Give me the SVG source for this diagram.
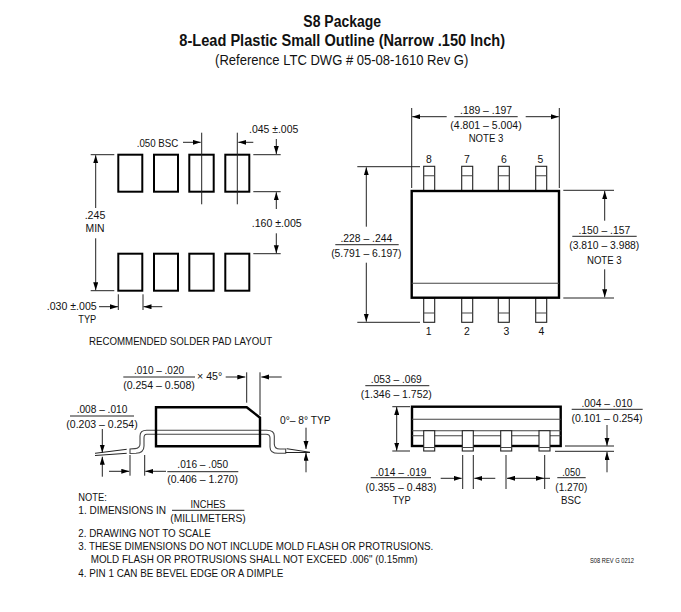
<svg xmlns="http://www.w3.org/2000/svg" width="681" height="612" viewBox="0 0 681 612">
<style>
text{font-family:"Liberation Sans",Arial,sans-serif;font-size:11.8px;fill:#111}
.m{text-anchor:middle}
.tb{font-weight:bold;font-size:16px;text-anchor:middle}
.ts{font-size:14.6px;text-anchor:middle}
.pad{fill:none;stroke:#000;stroke-width:2}
.body{fill:none;stroke:#000;stroke-width:2.4}
.lead{fill:#fff;stroke:#222;stroke-width:1.1}
.g{fill:none;stroke:#444;stroke-width:1.1}
.l{fill:none;stroke:#222;stroke-width:1}
.a{fill:none;stroke:#222;stroke-width:1;marker-end:url(#h)}
.d{fill:none;stroke:#222;stroke-width:1;marker-end:url(#h);marker-start:url(#s)}
</style>
<defs>
<marker id="h" markerUnits="userSpaceOnUse" markerWidth="9" markerHeight="6" refX="8" refY="2.5" orient="auto"><path d="M0 0L8 2.5L0 5Z" fill="#000"/></marker>
<marker id="s" markerUnits="userSpaceOnUse" markerWidth="9" markerHeight="6" refX="0" refY="2.5" orient="auto"><path d="M8 0L0 2.5L8 5Z" fill="#000"/></marker>
</defs>
<rect width="681" height="612" fill="#fff"/>
<g id="title">
<text class="tb" x="342.2" y="26.7" textLength="77.7" lengthAdjust="spacingAndGlyphs">S8 Package</text>
<text class="tb" x="342.2" y="45.7" textLength="325.7" lengthAdjust="spacingAndGlyphs">8-Lead Plastic Small Outline (Narrow .150 Inch)</text>
<text class="ts" x="341.7" y="65" textLength="253.3" lengthAdjust="spacingAndGlyphs">(Reference LTC DWG # 05-08-1610 Rev G)</text>
</g>
<g id="solder-pad-layout">
<g id="pads">
<rect class="pad" x="118.3" y="154.7" width="24" height="37"/><rect class="pad" x="154" y="154.7" width="24" height="37"/><rect class="pad" x="189.3" y="154.7" width="24.4" height="37"/><rect class="pad" x="225.3" y="154.7" width="24" height="37"/>
<rect class="pad" x="118.3" y="253.7" width="24" height="37"/><rect class="pad" x="154" y="253.7" width="24" height="37"/><rect class="pad" x="189.3" y="253.7" width="24.4" height="37"/><rect class="pad" x="225.3" y="253.7" width="24" height="37"/>
</g>
<g id="pad-dimensions">
<path class="l" d="M201.7 132.7V204.3M237.3 132.7V204.3M253.3 154.7H280.7M253.3 191.7H280.7M253.3 253.7H280.7M90.7 154.7H114.3M90.7 290.7H114.3M118.3 294.3V310M143 294.3V310"/>
<path class="a" d="M183 142.3H200.7"/><path class="a" d="M253.3 142.3H238.3"/><path class="a" d="M276.3 139V154"/><path class="a" d="M276.3 209V192.2"/><path class="a" d="M276.3 233.3V253.3"/>
<path class="a" d="M95.7 208V155.2"/><path class="a" d="M95.7 238.3V290.3"/><path class="a" d="M99 306.7H118"/><path class="a" d="M162.3 306.7H143.5"/>
</g>
<text x="136.7" y="146.7" textLength="41.6" lengthAdjust="spacingAndGlyphs">.050 BSC</text>
<text x="249" y="133.3" textLength="49.3" lengthAdjust="spacingAndGlyphs">.045 ±.005</text>
<text x="251.7" y="227" textLength="50" lengthAdjust="spacingAndGlyphs">.160 ±.005</text>
<text class="m" x="95" y="218.7" textLength="20.7" lengthAdjust="spacingAndGlyphs">.245</text>
<text class="m" x="95" y="231.7" textLength="19" lengthAdjust="spacingAndGlyphs">MIN</text>
<text x="46.7" y="310.3" textLength="50" lengthAdjust="spacingAndGlyphs">.030 ±.005</text>
<text class="m" x="87.3" y="323.3" textLength="18" lengthAdjust="spacingAndGlyphs">TYP</text>
<text x="89" y="345" textLength="183.3" lengthAdjust="spacingAndGlyphs">RECOMMENDED SOLDER PAD LAYOUT</text>
</g>
<g id="top-view">
<g id="top-leads">
<rect class="lead" x="423.7" y="166.3" width="11" height="24.7"/><rect class="lead" x="461.7" y="166.3" width="11" height="24.7"/><rect class="lead" x="498.3" y="166.3" width="11" height="24.7"/><rect class="lead" x="535.7" y="166.3" width="11" height="24.7"/>
<rect class="lead" x="423.7" y="298" width="11" height="24.3"/><rect class="lead" x="461.7" y="298" width="11" height="24.3"/><rect class="lead" x="498.3" y="298" width="11" height="24.3"/><rect class="lead" x="535.7" y="298" width="11" height="24.3"/>
<path class="g" d="M423.7 175.7h11M461.7 175.7h11M498.3 175.7h11M535.7 175.7h11M423.7 313h11M461.7 313h11M498.3 313h11M535.7 313h11"/>
</g>
<rect id="top-body" class="body" x="411.7" y="191" width="147.3" height="106.7"/>
<path class="g" d="M411.7 283.3H559"/>
<g id="top-dimensions">
<path class="l" d="M411.7 108V188M559.3 108V188M357.3 166.7H420M357.3 322.3H420M563.3 190.3H614M563.3 298H614M454.3 116.7H517.7M335.3 244.7H398.7M572.3 236.3H636.7"/>
<path class="a" d="M446.7 116.7H412.2"/><path class="a" d="M525.7 116.7H558.8"/><path class="a" d="M366.3 226.7V167.3"/><path class="a" d="M366.3 262.7V321.7"/><path class="a" d="M604.7 220.7V191"/><path class="a" d="M604.7 269.3V297.3"/>
</g>
<text class="m" x="486" y="114" textLength="52" lengthAdjust="spacingAndGlyphs">.189 – .197</text>
<text class="m" x="486" y="129.3" textLength="71.3" lengthAdjust="spacingAndGlyphs">(4.801 – 5.004)</text>
<text class="m" x="486" y="142.3" textLength="34.7" lengthAdjust="spacingAndGlyphs">NOTE 3</text>
<g style="font-size:11.8px">
<text class="m" x="429" y="163.3" textLength="5.8" lengthAdjust="spacingAndGlyphs">8</text><text class="m" x="467" y="163.3" textLength="5.8" lengthAdjust="spacingAndGlyphs">7</text><text class="m" x="504" y="163.3" textLength="5.8" lengthAdjust="spacingAndGlyphs">6</text><text class="m" x="540.3" y="163.3" textLength="5.8" lengthAdjust="spacingAndGlyphs">5</text>
<text class="m" x="428.7" y="335" textLength="5.8" lengthAdjust="spacingAndGlyphs">1</text><text class="m" x="467" y="335" textLength="5.8" lengthAdjust="spacingAndGlyphs">2</text><text class="m" x="506.3" y="335" textLength="5.8" lengthAdjust="spacingAndGlyphs">3</text><text class="m" x="541.3" y="335" textLength="5.8" lengthAdjust="spacingAndGlyphs">4</text>
</g>
<text class="m" x="366.3" y="241.7" textLength="51.7" lengthAdjust="spacingAndGlyphs">.228 – .244</text>
<text class="m" x="366.3" y="256.7" textLength="70.3" lengthAdjust="spacingAndGlyphs">(5.791 – 6.197)</text>
<text class="m" x="604.3" y="234" textLength="51.7" lengthAdjust="spacingAndGlyphs">.150 – .157</text>
<text class="m" x="604.3" y="249.3" textLength="70" lengthAdjust="spacingAndGlyphs">(3.810 – 3.988)</text>
<text class="m" x="604.3" y="264" textLength="34.7" lengthAdjust="spacingAndGlyphs">NOTE 3</text>
</g>
<g id="side-view-end">
<path class="g" d="M146.7 430.3H266.7C271 430.3 274.3 432 274.3 436V444C274.3 447.5 276 449 280 449H285.7V453.3H278C273 453.3 270 451 270 447V438C270 435.5 268.5 434.3 266 434.3H146.7C145 434.3 144 435.5 144 438V446C144 451 141 453 136 453.3L130 453.5V449L135 448.6C138.5 448.3 140 447 140 444V436C140 432 143 430.3 146.7 430.3Z"/>
<path class="body" d="M156 407.3H246.7L260 417.7V446.3H156Z"/>
<g id="end-dimensions">
<path class="l" d="M95 453.3L126.7 449.3M95 455.5L126.7 453.3M130 455V475.7M144.7 455V475.7M246.7 372.3V402.7M260 372.3V415M286.7 448.7L310 452.3M285.7 452.5H310M70 416H134M167.3 471.7H238.3M123.3 377H195"/>
<path class="a" d="M102.3 429V452.7"/><path class="a" d="M102.3 476.7V456.7"/><path class="a" d="M109 471.3H129.3"/><path class="a" d="M166 471.3H145.3"/><path class="a" d="M225.7 377H245.3"/><path class="a" d="M281.7 377H261.3"/><path class="a" d="M306 427.7V449"/><path class="a" d="M306 472.3V452.8"/>
</g>
<text class="m" x="159" y="374.3" textLength="50" lengthAdjust="spacingAndGlyphs">.010 – .020</text>
<text class="m" x="159" y="389" textLength="71.7" lengthAdjust="spacingAndGlyphs">(0.254 – 0.508)</text>
<text x="197" y="380" textLength="25.3" lengthAdjust="spacingAndGlyphs">× 45°</text>
<text class="m" x="102" y="413.3" textLength="50.7" lengthAdjust="spacingAndGlyphs">.008 – .010</text>
<text class="m" x="102" y="428.3" textLength="71.3" lengthAdjust="spacingAndGlyphs">(0.203 – 0.254)</text>
<text class="m" x="202.7" y="468" textLength="50.7" lengthAdjust="spacingAndGlyphs">.016 – .050</text>
<text class="m" x="202.7" y="483.3" textLength="70.7" lengthAdjust="spacingAndGlyphs">(0.406 – 1.270)</text>
<text x="280" y="424.3" textLength="50.7" lengthAdjust="spacingAndGlyphs">0°– 8° TYP</text>
</g>
<g id="side-view-long">
<rect class="body" x="412" y="406.7" width="148.7" height="39.3"/>
<path class="g" d="M412 419.3H560.7M412 430.7H560.7M412 435.7H560.7"/>
<g id="side-leads">
<rect class="lead" x="423.7" y="430.7" width="11" height="20.3"/><rect class="lead" x="462.3" y="430.7" width="11" height="20.3"/><rect class="lead" x="500.7" y="430.7" width="11" height="20.3"/><rect class="lead" x="539" y="430.7" width="11" height="20.3"/>
<path class="g" d="M423.7 447.5h11M462.3 447.5h11M500.7 447.5h11M539 447.5h11"/>
</g>
<g id="side-dimensions">
<path class="l" d="M392.3 406.7H410M392.3 451H410M565 446H614M555 451.3H614M462.7 455V489M473.3 455V489M506 455V489M544.7 455V489M365.3 385.7H429.3M571.7 409.3H642.7M370.7 477.7H431M557.3 477.7H585.7M544 478.3H550"/>
<path class="d" d="M396.7 407V450.7"/>
<path class="a" d="M607 425V445.7"/><path class="a" d="M607 472.3V452"/><path class="a" d="M440.7 478.3H461.7"/><path class="a" d="M495.3 478.3H474.3"/><path class="d" d="M507 478.3H544"/>
</g>
<text class="m" x="396.3" y="382.7" textLength="51" lengthAdjust="spacingAndGlyphs">.053 – .069</text>
<text class="m" x="396.3" y="397.7" textLength="71" lengthAdjust="spacingAndGlyphs">(1.346 – 1.752)</text>
<text class="m" x="607" y="407" textLength="51" lengthAdjust="spacingAndGlyphs">.004 – .010</text>
<text class="m" x="607" y="421.7" textLength="71" lengthAdjust="spacingAndGlyphs">(0.101 – 0.254)</text>
<text class="m" x="401" y="475.7" textLength="51" lengthAdjust="spacingAndGlyphs">.014 – .019</text>
<text class="m" x="401" y="491" textLength="71" lengthAdjust="spacingAndGlyphs">(0.355 – 0.483)</text>
<text class="m" x="401.7" y="504" textLength="18" lengthAdjust="spacingAndGlyphs">TYP</text>
<text class="m" x="571.3" y="476" textLength="18" lengthAdjust="spacingAndGlyphs">.050</text>
<text class="m" x="571.3" y="491" textLength="32" lengthAdjust="spacingAndGlyphs">(1.270)</text>
<text class="m" x="571" y="504" textLength="20" lengthAdjust="spacingAndGlyphs">BSC</text>
</g>
<g id="notes">
<text x="78.3" y="501" textLength="28.5" lengthAdjust="spacingAndGlyphs">NOTE:</text>
<text x="78.3" y="514" textLength="87.7" lengthAdjust="spacingAndGlyphs">1. DIMENSIONS IN</text>
<text class="m" x="208" y="507.7" textLength="35" lengthAdjust="spacingAndGlyphs">INCHES</text>
<path class="l" d="M172 510.3H244.3"/>
<text class="m" x="208" y="522.3" textLength="75.5" lengthAdjust="spacingAndGlyphs">(MILLIMETERS)</text>
<text x="78.3" y="536.7" textLength="132.4" lengthAdjust="spacingAndGlyphs">2. DRAWING NOT TO SCALE</text>
<text x="78.3" y="550" textLength="355" lengthAdjust="spacingAndGlyphs">3. THESE DIMENSIONS DO NOT INCLUDE MOLD FLASH OR PROTRUSIONS.</text>
<text x="90.7" y="563.3" textLength="326.8" lengthAdjust="spacingAndGlyphs">MOLD FLASH OR PROTRUSIONS SHALL NOT EXCEED .006" (0.15mm)</text>
<text x="78.3" y="576.7" textLength="205" lengthAdjust="spacingAndGlyphs">4. PIN 1 CAN BE BEVEL EDGE OR A DIMPLE</text>
<text x="590" y="563" textLength="44" lengthAdjust="spacingAndGlyphs" style="font-size:7px">S08 REV G 0212</text>
</g>
</svg>
